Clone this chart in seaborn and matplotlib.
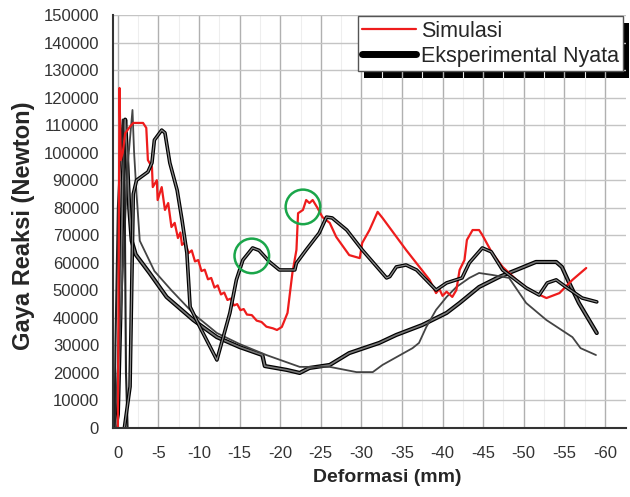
import pandas as pd
import numpy as np
import matplotlib
matplotlib.use("Agg")
import matplotlib.pyplot as plt
import matplotlib.patheffects as pe
from matplotlib.lines import Line2D
from matplotlib.patches import Rectangle
import seaborn as sns

# Simulasi (garis merah)
sim_x = [0, -0.1, -0.2, -0.35, -0.6, -0.9, -1.5, -1.9, -3.1, -3.5, -3.7, -4.2, -4.3, -4.8, -4.9,
         -5.4, -5.8, -6.2, -6.6, -7.0, -7.4, -7.7, -7.9, -8.3, -8.7, -9.1, -9.5, -9.9, -10.3,
         -10.7, -11.1, -11.5, -11.9, -12.3, -12.7, -13.1, -13.5, -13.9, -14.3, -14.7, -15.1,
         -15.5, -15.9, -16.5, -17.1, -17.7, -18.3, -19.1, -19.6, -20.2, -20.9, -21.5, -22.0,
         -22.2, -22.8, -23.2, -23.6, -24.0, -24.6, -25.2, -26.1, -26.9, -28.5, -29.8, -30.1,
         -31.0, -32.0, -32.6, -35.5, -38.4, -39.2, -39.6, -40.0, -40.5, -41.2, -41.7, -42.1,
         -42.7, -43.0, -43.7, -44.5, -44.9, -46.1, -47.4, -49.1, -50.7, -52.8, -54.4, -56.0,
         -57.7]
sim_y = [0, 60000, 123500, 97300, 100000, 107000, 109500, 110800, 110800, 109000, 97300, 94800,
         87500, 90000, 82800, 87500, 79200, 81700, 73000, 74500, 69000, 71000, 66500, 67500,
         63500, 64500, 60500, 61000, 57000, 57500, 54000, 54500, 51000, 51800, 48500, 49200,
         46500, 47000, 44500, 45000, 42800, 43200, 41200, 41000, 39000, 38500, 36800, 36200,
         35600, 36700, 41800, 56300, 64700, 78000, 79200, 82800, 81700, 82800, 79900, 76600,
         74500, 69400, 62800, 61700, 67200, 71900, 78500, 76300, 64700, 53800, 49000, 50500,
         48000, 49500, 47600, 50100, 57400, 61000, 68300, 71900, 71900, 70100, 63600, 58500,
         53800, 50100, 47200, 49000, 53800, 58100]

# Eksperimental Nyata (beberapa kurva hitam)
expA_x = [-0.8, -1.5, -1.7, -1.9, -2.3, -3.7, -4.2, -4.5, -5.4, -5.8, -6.4, -7.3, -7.9, -8.5,
          -8.9, -10.1, -12.2, -13.8, -14.6, -15.4, -16.6, -17.4, -18.7, -19.9, -21.8, -22.0,
          -23.2, -24.8, -25.7, -26.4, -28.2, -30.1, -33.1, -33.5, -34.3, -35.5, -36.8, -39.2,
          -40.5, -42.4, -43.3, -44.9, -46.0, -47.4, -50.3, -51.9, -52.9, -54.0, -55.2, -57.2,
          -59.0]
expA_y = [0, 15000, 50000, 85000, 90000, 93000, 96300, 104600, 108200, 107200, 96300, 86400,
          75600, 63600, 44000, 36700, 24700, 41800, 53800, 61000, 65400, 64500, 60300, 57400,
          57400, 59900, 64700, 70800, 76600, 76300, 71900, 64700, 54500, 55000, 58500, 59200,
          57400, 50100, 52700, 54500, 60000, 65400, 64000, 57400, 50900, 48300, 52700, 53800,
          51200, 47200, 45800]

expB_x = [0.3, 0.0, -0.3, -0.6, -0.9, -1.1, -1.4, -1.7, -2.2, -3.9, -6.0, -9.3, -12.2, -15.0,
          -17.8, -18.1, -20.8, -22.4, -23.6, -26.1, -28.5, -32.2, -34.3, -37.5, -40.5, -42.1,
          -44.5, -47.0, -49.1, -51.5, -54.0, -54.7, -55.6, -56.8, -59.0]
expB_y = [0, 5000, 40000, 90000, 112000, 100000, 80000, 68000, 63000, 56300, 47600, 39200,
          33000, 29400, 26500, 22500, 21100, 20000, 21800, 22900, 27200, 30900, 33800, 37400,
          41800, 45400, 51200, 54900, 57400, 60300, 60300, 58500, 52700, 45400, 34500]

expC_x = [0.5, 0.2, -0.5, -1.2, -1.8, -2.0, -2.3, -2.7, -4.5, -6.6, -9.5, -12.2, -15.0, -18.3,
          -22.4, -26.1, -29.4, -31.4, -32.6, -36.3, -37.1, -38.0, -39.2, -40.5, -41.7, -43.3,
          -44.5, -46.1, -48.2, -50.3, -52.8, -56.0, -57.0, -58.9]
expC_y = [0, 10000, 50000, 95000, 115500, 100000, 85000, 68000, 57000, 50000, 41000, 34500,
          30500, 26500, 22200, 22200, 20300, 20300, 22900, 29000, 30900, 36700, 42900, 47600,
          51200, 54500, 56300, 55600, 54500, 45400, 39200, 33000, 29000, 26500]

expD_x = [0.4, 0.3, 0.0, -0.4, -0.6, -0.8, -0.9, -1.0, -1.2]
expD_y = [0, 30000, 80000, 104000, 112000, 100000, 60000, 20000, 0]

# lingkaran hijau (puncak yang disorot)
sorot_x = [-16.5, -22.8]
sorot_y = [62500, 80300]

sim = pd.DataFrame({"x": sim_x, "y": sim_y})
expA = pd.DataFrame({"x": expA_x, "y": expA_y})
expB = pd.DataFrame({"x": expB_x, "y": expB_y})
expC = pd.DataFrame({"x": expC_x, "y": expC_y})
expD = pd.DataFrame({"x": expD_x, "y": expD_y})

sns.set_style("white")
plt.rcParams["font.family"] = ["Liberation Sans", "DejaVu Sans"]

fig = plt.figure(figsize=(6.3, 4.97), dpi=100)
ax = fig.add_axes([113 / 630, 1 - 428 / 497, 513 / 630, 413 / 497])

outline = [pe.Stroke(linewidth=3.0, foreground="black"), pe.Normal()]
sns.lineplot(data=expB, x="x", y="y", sort=False, estimator=None, color="#777777",
             linewidth=1.2, ax=ax, path_effects=outline)
sns.lineplot(data=expC, x="x", y="y", sort=False, estimator=None, color="#444444",
             linewidth=1.3, ax=ax)
sns.lineplot(data=expD, x="x", y="y", sort=False, estimator=None, color="#222222",
             linewidth=1.5, ax=ax)
sns.lineplot(data=sim, x="x", y="y", sort=False, estimator=None, color="#ee1c1c",
             linewidth=1.6, ax=ax)
sns.lineplot(data=expA, x="x", y="y", sort=False, estimator=None, color="#888888",
             linewidth=0.9, ax=ax,
             path_effects=[pe.Stroke(linewidth=2.6, foreground="black"), pe.Normal()])

ax.scatter(sorot_x, sorot_y, s=620, facecolors="none", edgecolors="#1aa64a",
           linewidths=1.8, zorder=5)

ax.set_xlim(0.6, -62.6)
ax.set_ylim(0, 150000)
ax.set_xticks(np.arange(0, -61, -5))
ax.set_xticklabels([str(v) for v in range(0, -61, -5)])
ax.set_xticks(np.arange(-2.5, -62, -5), minor=True)
ax.set_yticks(np.arange(0, 150001, 10000))
ax.set_yticklabels([str(v) for v in range(0, 150001, 10000)])

ax.grid(True, axis="x", which="major", color="#b0b0b0", linewidth=1.0)
ax.grid(True, axis="x", which="minor", color="#eeeeee", linewidth=0.8)
ax.grid(True, axis="y", which="major", color="#c4c4c4", linewidth=1.0)
ax.set_axisbelow(True)

for s in ["top", "right"]:
    ax.spines[s].set_visible(False)
for s in ["left", "bottom"]:
    ax.spines[s].set_color("#333333")
    ax.spines[s].set_linewidth(1.5)

ax.tick_params(axis="x", which="major", direction="out", length=6, width=1.3,
               color="#333333", labelsize=12, labelcolor="#333333", pad=7)
ax.tick_params(axis="x", which="minor", direction="out", length=4, width=1.0, color="#333333")
ax.tick_params(axis="y", which="major", direction="inout", length=8, width=1.3,
               color="#333333", labelsize=12, labelcolor="#333333", pad=6)

ax.set_xlabel("Deformasi (mm)", fontsize=14, fontweight="bold")
ax.set_ylabel("Gaya Reaksi (Newton)", fontsize=17, fontweight="bold")
ax.xaxis.set_label_coords(0.535, -0.10)
ax.yaxis.set_label_coords(-0.152, 0.49)

handles = [Line2D([], [], color="#ee1c1c", linewidth=1.6),
           Line2D([], [], color="black", linewidth=5)]
leg = ax.legend(handles, ["Simulasi", "Eksperimental Nyata"], loc="upper right",
                bbox_to_anchor=(0.995, 0.997), borderaxespad=0, fontsize=15.5,
                frameon=True, fancybox=False, edgecolor="#555555", framealpha=1,
                handlelength=2.5, handletextpad=0.25, borderpad=0.2, labelspacing=0.2)
leg.get_frame().set_linewidth(1.0)
leg.set_zorder(10)

# bayangan hitam di belakang legenda
fig.canvas.draw()
bb = leg.get_window_extent().transformed(fig.transFigure.inverted())
fig.add_artist(Rectangle((bb.x0 + 6 / 630, bb.y0 - 7 / 497), bb.width, bb.height,
                         transform=fig.transFigure, facecolor="black", edgecolor="none",
                         zorder=9))
ax.set_zorder(11)
ax.patch.set_alpha(0)

fig.savefig("out.png", dpi=100)
